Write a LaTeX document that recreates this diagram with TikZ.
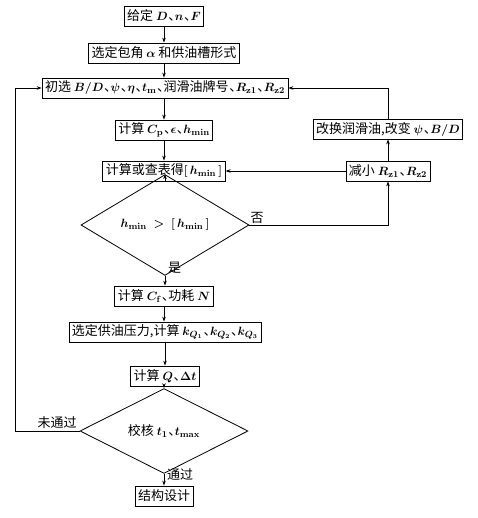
\documentclass[tikz,border=0pt]{standalone}
\usepackage[no-math]{fontspec}
\setmainfont{Noto Sans CJK SC}
\usetikzlibrary{shapes.geometric,arrows.meta}
\newcommand\dunhao{\kern0.05em\makebox[0.5em][l]{、}}
\begin{document}
\begin{tikzpicture}[x=1pt,y=-1pt, font=\fontsize{13}{15}\selectfont\boldmath,
  box/.style={draw, line width=0.8pt, inner xsep=3pt, inner ysep=1pt, minimum height=20pt},
  dia/.style={draw, diamond, line width=0.8pt, inner sep=0pt, minimum width=168pt, minimum height=55pt},
  arr/.style={-{Stealth[length=5pt,width=3.5pt]}, line width=0.6pt},
  lab/.style={inner sep=1pt}]
\useasboundingbox (0,0) rectangle (477,518);
\node[box] (b1) at (164,16) {给定 $D$\dunhao$n$\dunhao$F$};
\node[box] (b2) at (164,53) {选定包角 $\alpha$ 和供油槽形式};
\node[box] (b3) at (165,88) {初选 $B/D$\dunhao$\psi$\dunhao$\eta$\dunhao$t_{\mathrm{m}}$\dunhao 润滑油牌号\dunhao$R_{\mathrm{z1}}$\dunhao$R_{\mathrm{z2}}$};
\node[box] (b4) at (164,130) {计算 $C_{\mathrm{p}}$\dunhao$\epsilon$\dunhao$h_{\min}$};
\node[box] (b5) at (164,171) {计算或查表得$[\,h_{\min}\,]$};
\node[dia] (d1) at (165,225) {$h_{\min}\ >\ [\,h_{\min}\,]$};
\node[box] (b6) at (164,296) {计算 $C_{\mathrm{f}}$\dunhao 功耗 $N$};
\node[box] (b7) at (165,332) {选定供油压力,计算 $k_{Q_1}$\dunhao$k_{Q_2}$\dunhao$k_{Q_3}$};
\node[box] (b8) at (165,376) {计算 $Q$\dunhao$\Delta t$};
\node[dia] (d2) at (164,431) {校核 $t_1$\dunhao$t_{\max}$};
\node[box] (b9) at (164,496) {结构设计};
\node[box] (r1) at (388,129) {改换润滑油,改变 $\psi$\dunhao$B/D$};
\node[box] (r2) at (388,171) {减小 $R_{\mathrm{z1}}$\dunhao$R_{\mathrm{z2}}$};
\coordinate (cl) at (15,431);
% main column
\draw[arr] (b1.south) -- (b1.south |- b2.north);
\draw[arr] (b2.south) -- (b2.south |- b3.north);
\draw[arr] (b4.north |- b3.south) -- (b4.north);
\draw[arr] (b4.south) -- (b4.south |- b5.north);
\draw[arr] (b5.south -| d1.north) -- (d1.north);
\draw[arr] (d1.south) -- (d1.south |- b6.north);
\draw[arr] (b6.south) -- (b6.south |- b7.north);
\draw[arr] (b7.south) -- (b7.south |- b8.north);
\draw[arr] (b8.south -| d2.north) -- (d2.north);
\draw[arr] (d2.south) -- (d2.south |- b9.north);
% right loop
\draw[arr] (d1.east) -| (r2.south);
\draw[arr] (r2.west) -- (b5.east);
\draw[arr] (r2.north) -- (r1.south);
\draw[arr] (r1.north) |- (b3.east);
% left loop
\draw[arr] (d2.west) -- (cl) |- (b3.west);
% labels
\node[lab, anchor=south west] (lno) at (d1.east) {否};
\node[lab, anchor=west] (lyes) at (167,268) {是};
\node[lab, anchor=south] (lfail) at (57,430) {未通过};
\node[lab, anchor=west] (lpass) at (166,475) {通过};
\end{tikzpicture}
\end{document}
